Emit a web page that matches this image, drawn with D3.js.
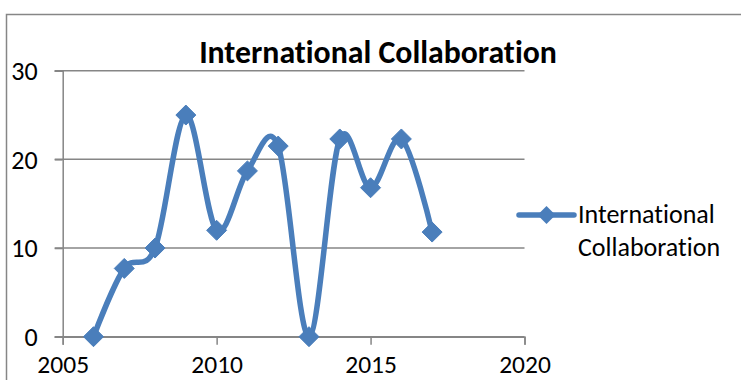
<!DOCTYPE html>
<html><head><meta charset="utf-8">
<script src="https://cdn.jsdelivr.net/npm/d3@7"></script>
<style>body{margin:0;background:#fff}svg{display:block}text{font-variant-ligatures:none;font-feature-settings:"liga" 0}</style>
</head><body>
<script>
const title = "International Collaboration";
const seriesName = "International Collaboration";
const years = [2006, 2007, 2008, 2009, 2010, 2011, 2012, 2013, 2014, 2015, 2016, 2017];
const values = [0, 7.7, 10, 25, 12, 18.7, 21.5, 0, 22.3, 16.8, 22.3, 11.8];
const xTicks = [2005, 2010, 2015, 2020];
const yTicks = [0, 10, 20, 30];

const W = 741, H = 380;
const svg = d3.select("body").append("svg").attr("width", W).attr("height", H);
const font = "Carlito, Calibri, 'Liberation Sans Narrow', 'Liberation Sans', sans-serif";
const grey = "#868686";
const blue = "#4A7EBB";

// outer chart border
svg.append("rect").attr("x", 6.5).attr("y", 14.5).attr("width", 800).attr("height", 400)
  .attr("fill", "none").attr("stroke", grey).attr("stroke-width", 1.5);

const x = d3.scaleLinear().domain([2005, 2020]).range([62.7, 524.5]);
const y = d3.scaleLinear().domain([0, 30]).range([336.7, 70.7]);

// gridlines
svg.append("g").selectAll("line").data(yTicks).join("line")
  .attr("x1", x(2005) - 8).attr("x2", x(2020)).attr("y1", d => y(d)).attr("y2", d => y(d))
  .attr("stroke", grey).attr("stroke-width", 1.5);

// y axis
const yAxis = svg.append("g").attr("transform", `translate(${x(2005)},0)`)
  .call(d3.axisLeft(y).tickValues(yTicks).tickSize(8).tickPadding(17));
yAxis.select(".domain").attr("stroke", grey).attr("stroke-width", 1.5);
yAxis.selectAll(".tick line").attr("stroke", grey).attr("stroke-width", 1.5);
yAxis.selectAll("text").attr("font-family", font).attr("font-size", 26).attr("fill", "#000")
  .attr("dy", "0.34em");

// x axis
const xAxis = svg.append("g").attr("transform", `translate(0,${y(0)})`)
  .call(d3.axisBottom(x).tickValues(xTicks).tickFormat(d3.format("d")).tickSize(8));
xAxis.select(".domain").attr("stroke", grey).attr("stroke-width", 1.5);
xAxis.selectAll(".tick line").attr("stroke", grey).attr("stroke-width", 1.5);
xAxis.selectAll("text").attr("font-family", font).attr("font-size", 25.5).attr("fill", "#000")
  .attr("y", 373.5 - y(0)).attr("dy", 0);

// title
svg.append("text").attr("x", 378).attr("y", 63).attr("text-anchor", "middle")
  .attr("font-family", font).attr("font-weight", "bold").attr("font-size", 31.8).attr("fill", "#000")
  .text(title);

const data = years.map((yr, i) => ({ yr, v: values[i] }));
const line = d3.line().x(d => x(d.yr)).y(d => y(d.v)).curve(d3.curveCardinal.tension(0));
svg.append("path").datum(data).attr("d", line).attr("fill", "none")
  .attr("stroke", blue).attr("stroke-width", 5.5).attr("stroke-linejoin", "round").attr("stroke-linecap", "round");

const diamond = s => `M0,${-s}L${s},0L0,${s}L${-s},0Z`;
svg.append("g").selectAll("path").data(data).join("path")
  .attr("transform", d => `translate(${x(d.yr)},${y(d.v)})`)
  .attr("d", diamond(10)).attr("fill", blue).attr("stroke", blue).attr("stroke-width", 1);

// legend
const lg = svg.append("g");
lg.append("line").attr("x1", 519).attr("x2", 574).attr("y1", 215).attr("y2", 215)
  .attr("stroke", blue).attr("stroke-width", 5.5).attr("stroke-linecap", "round");
lg.append("path").attr("transform", "translate(546.5,215)").attr("d", diamond(9)).attr("fill", blue);
const lt = lg.append("text").attr("font-family", font).attr("font-size", 26).attr("fill", "#000");
lt.append("tspan").attr("x", 578).attr("y", 223).text(seriesName.split(" ")[0]);
lt.append("tspan").attr("x", 578).attr("y", 256).text(seriesName.split(" ")[1]);
</script>
</body></html>
